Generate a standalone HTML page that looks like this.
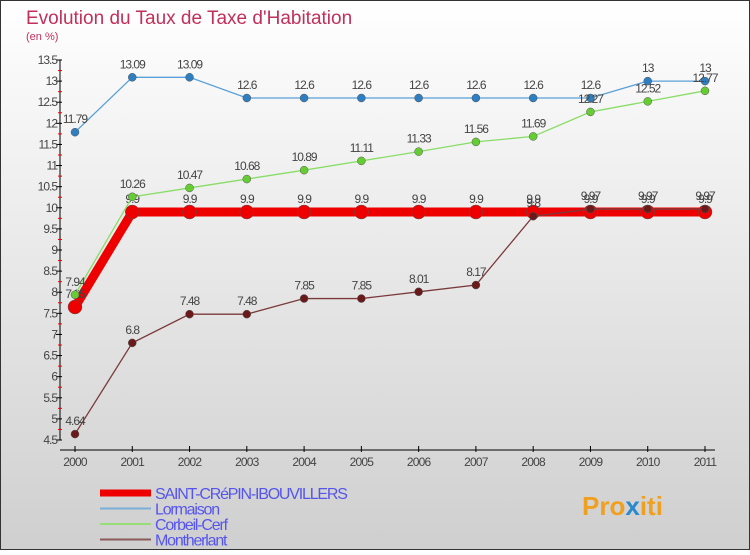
<!DOCTYPE html>
<html><head><meta charset="utf-8"><style>
html,body{margin:0;padding:0}
body{width:750px;height:550px;overflow:hidden;font-family:"Liberation Sans",sans-serif}
</style></head><body>
<svg id="c" width="750" height="550" xmlns="http://www.w3.org/2000/svg">
<defs><linearGradient id="bg" x1="0" y1="0" x2="0" y2="1"><stop offset="0" stop-color="#ffffff"/><stop offset="1" stop-color="#cfcfcf"/></linearGradient></defs>
<rect x="0.5" y="0.5" width="749" height="549" fill="url(#bg)" stroke="#333" stroke-width="1"/>
<text x="26" y="24" font-size="19" fill="#c0305a">Evolution du Taux de Taxe d'Habitation</text>
<text x="26" y="40" font-size="11" fill="#c0305a">(en %)</text>
<g id="axes"></g><g id="series"></g><g id="legend"></g>
<text x="582" y="515" font-size="26" font-weight="bold" fill="#f0a020">Pro<tspan fill="#2a8ad0">x</tspan>iti</text>
</svg>
<script>
const years=[2000,2001,2002,2003,2004,2005,2006,2007,2008,2009,2010,2011];
const yTicks=[4.5,5,5.5,6,6.5,7,7.5,8,8.5,9,9.5,10,10.5,11,11.5,12,12.5,13,13.5];
const saint=[7.65,9.9,9.9,9.9,9.9,9.9,9.9,9.9,9.9,9.9,9.9,9.9];
const lormaison=[11.79,13.09,13.09,12.6,12.6,12.6,12.6,12.6,12.6,12.6,13,13];
const corbeil=[7.94,10.26,10.47,10.68,10.89,11.11,11.33,11.56,11.69,12.27,12.52,12.77];
const montherlant=[4.64,6.8,7.48,7.48,7.85,7.85,8.01,8.17,9.8,9.97,9.97,9.97];
const NS="http://www.w3.org/2000/svg";
const X=i=>75+i*(630/11);
const Y=v=>440-(v-4.5)*(380/9);
function mk(t,a,p){const e=document.createElementNS(NS,t);for(const k in a)e.setAttribute(k,a[k]);p.appendChild(e);return e;}
const ax=document.getElementById('axes');
let l=mk('line',{x1:60,y1:Y(13.5),x2:60,y2:Y(4.5),stroke:'#000'},ax);


l=mk('line',{x1:60,y1:450,x2:715,y2:450,stroke:'#000'},ax);


yTicks.forEach((v,i)=>{
  mk('line',{x1:56,y1:Y(v),x2:62,y2:Y(v),stroke:'#000'},ax);
  if(i<yTicks.length-1)mk('line',{x1:58,y1:Y(v+0.25),x2:62,y2:Y(v+0.25),stroke:'#e00'},ax);
  const t=mk('text',{x:57,y:Y(v)+4,'font-size':12,'text-anchor':'end',fill:'#444','letter-spacing':'-1'},ax);
  t.textContent=String(v);
  
  
});
years.forEach((y,i)=>{
  mk('line',{x1:X(i),y1:446,x2:X(i),y2:452,stroke:'#000'},ax);
  const t=mk('text',{x:X(i),y:466,'font-size':12,'text-anchor':'middle',fill:'#444','letter-spacing':'-0.8'},ax);
  t.textContent=y;
  
  
});
const sg=document.getElementById('series');
function series(vals,color,dot,w,r,name){
  const g=mk('g',{},sg);
  
  
  mk('polyline',{points:vals.map((v,i)=>X(i)+','+Y(v)).join(' '),fill:'none',stroke:color,'stroke-width':w},g);
  vals.forEach((v,i)=>{
    const c=mk('circle',{cx:X(i),cy:Y(v),r:r,fill:dot,stroke:'#555','stroke-width':0.5},g);
    
    
    const t=mk('text',{x:X(i),y:Y(v)-9,'font-size':12,'text-anchor':'middle',fill:'#444','letter-spacing':'-1'},g);
    t.textContent=String(v);
    
    
  });
}
series(saint,'#ee0000','#ee0000',9,7,'saint-crepin-series');
series(lormaison,'#5aa0d8','#2f7fc0',1.3,4,'lormaison-series');
series(corbeil,'#88dd66','#66cc33',1.3,4,'corbeil-cerf-series');
series(montherlant,'#7a3a3a','#6a1a1a',1.3,4,'montherlant-series');
const lg=document.getElementById('legend');
const items=[['SAINT-CRéPIN-IBOUVILLERS','#ee0000',7],['Lormaison','#7ab0d8',2],['Corbeil-Cerf','#99dd77',2],['Montherlant','#8a5a5a',2]];
items.forEach((it,i)=>{
  const y=493+i*15.5;
  const g=mk('g',{},lg);
  
  
  mk('line',{x1:100,y1:y,x2:151,y2:y,stroke:it[1],'stroke-width':it[2]},g);
  const t=mk('text',{x:155,y:y+6,'font-size':16,fill:'#5555ee','letter-spacing':'-1.2'},g);
  t.textContent=it[0];
});
</script>
</body></html>
